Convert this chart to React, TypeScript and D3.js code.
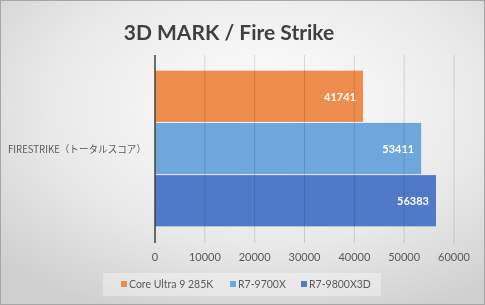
import React, { useEffect, useRef } from "react";
import { select, scaleLinear, scaleBand } from "d3";

const categories = ["FIRESTRIKE（トータルスコア）"];
const seriesNames = ["Core Ultra 9 285K", "R7-9700X", "R7-9800X3D"];
const seriesColors = ["#EE8C4E", "#6DA7DB", "#5079C7"];
const values = [41741, 53411, 56383];
const xTicks = [0, 10000, 20000, 30000, 40000, 50000, 60000];
const title = "3D MARK / Fire Strike";

const W = 485;
const H = 305;
const latin = "Lato, 'Noto Sans', sans-serif";
const jp = "'Noto Sans CJK JP', 'Noto Sans', sans-serif";

const Chart = () => {
    const ref = useRef<SVGSVGElement>(null);

    useEffect(() => {
        const svg = select(ref.current);
        svg.selectAll("*").remove();

        // background
        const defs = svg.append("defs");
        const grad = defs
            .append("radialGradient")
            .attr("id", "bg")
            .attr("cx", "55%")
            .attr("cy", "35%")
            .attr("r", "75%");
        grad.append("stop").attr("offset", "0%").attr("stop-color", "#ffffff");
        grad.append("stop").attr("offset", "60%").attr("stop-color", "#e9e9e9");
        grad.append("stop").attr("offset", "100%").attr("stop-color", "#cfcfcf");

        svg.append("rect")
            .attr("x", 0.5)
            .attr("y", 0.5)
            .attr("width", W - 1)
            .attr("height", H - 1)
            .attr("fill", "url(#bg)")
            .attr("stroke", "#a6a6a6");

        svg.append("text")
            .attr("x", 229)
            .attr("y", 40)
            .attr("text-anchor", "middle")
            .attr("font-family", latin)
            .attr("font-weight", "bold")
            .attr("font-size", 21)
            .attr("fill", "#404040")
            .text(title);

        const top = 55;
        const bottom = 243;
        const x = scaleLinear().domain([0, 60000]).range([155, 454]);
        const y = scaleBand<string>().domain(categories).range([top, bottom]).paddingInner(0).paddingOuter(0.1);
        const inner = scaleBand<string>().domain(seriesNames).range([0, y.bandwidth()]).padding(0);

        // bars
        categories.forEach((c) => {
            const g = svg.append("g");
            g.selectAll("rect")
                .data(values)
                .join("rect")
                .attr("x", x(0))
                .attr("y", (_, i) => (y(c) as number) + (inner(seriesNames[i]) as number))
                .attr("width", (d) => x(d) - x(0))
                .attr("height", inner.bandwidth() - 1)
                .attr("fill", (_, i) => seriesColors[i]);

            g.selectAll("text")
                .data(values)
                .join("text")
                .attr("x", (d) => x(d) - 7)
                .attr("y", (_, i) => (y(c) as number) + (inner(seriesNames[i]) as number) + inner.bandwidth() / 2 + 4)
                .attr("text-anchor", "end")
                .attr("font-family", latin)
                .attr("font-weight", "bold")
                .attr("font-size", 11)
                .attr("fill", "#ffffff")
                .text((d) => d);

            svg.append("text")
                .attr("x", 8)
                .attr("y", (y(c) as number) + y.bandwidth() / 2 + 4)
                .attr("font-family", jp)
                .attr("font-size", 9.7)
                .attr("textLength", 138)
                .attr("lengthAdjust", "spacingAndGlyphs")
                .attr("fill", "#595959")
                .text(c);
        });

        // gridlines over bars
        svg.append("g")
            .selectAll("line")
            .data(xTicks.slice(1))
            .join("line")
            .attr("x1", (d) => x(d))
            .attr("x2", (d) => x(d))
            .attr("y1", top)
            .attr("y2", bottom)
            .attr("stroke", "#000")
            .attr("stroke-opacity", 0.13);

        svg.append("line")
            .attr("x1", x(0))
            .attr("x2", x(0))
            .attr("y1", top)
            .attr("y2", bottom)
            .attr("stroke", "#404040")
            .attr("stroke-width", 1.5);

        svg.append("g")
            .selectAll("text")
            .data(xTicks)
            .join("text")
            .attr("x", (d) => x(d))
            .attr("y", 261)
            .attr("text-anchor", "middle")
            .attr("font-family", latin)
            .attr("font-size", 11)
            .attr("fill", "#595959")
            .text((d) => d);

        // legend
        svg.append("rect")
            .attr("x", 103)
            .attr("y", 273)
            .attr("width", 278)
            .attr("height", 23)
            .attr("fill", "#ffffff")
            .attr("fill-opacity", 0.35);

        const legendX = [121, 230, 301];
        const lg = svg.append("g");
        seriesNames.forEach((s, i) => {
            lg.append("rect")
                .attr("x", legendX[i])
                .attr("y", 281)
                .attr("width", 6)
                .attr("height", 6)
                .attr("fill", seriesColors[i]);
            lg.append("text")
                .attr("x", legendX[i] + 8)
                .attr("y", 288)
                .attr("font-family", latin)
                .attr("font-size", 10.5)
                .attr("fill", "#595959")
                .text(s);
        });
    }, []);

    return <svg ref={ref} width={W} height={H} style={{ display: "block" }} />;
};

export default function App() {
    return (
        <div style={{ position: "fixed", left: 0, top: 0 }}>
            <Chart />
        </div>
    );
}
